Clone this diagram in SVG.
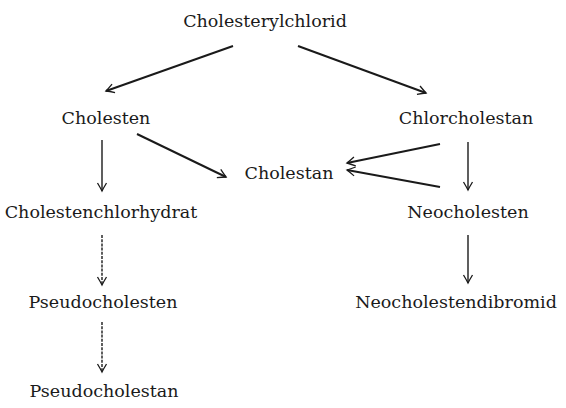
<svg xmlns="http://www.w3.org/2000/svg" width="566" height="408" viewBox="0 0 566 408">
<style>
text{font-family:"DejaVu Serif","Liberation Serif",serif;font-size:17.5px;fill:#1a1a1a;text-anchor:middle}
.c line{stroke:#1a1a1a;stroke-width:1.4;fill:none}
.c .b{stroke-width:2}
.c .d{stroke-dasharray:3 1.2}
</style>
<defs>
<marker id="ah" viewBox="-10 -6 12 12" markerWidth="12" markerHeight="12" refX="0" refY="0" orient="auto" markerUnits="userSpaceOnUse">
<path d="M-8,-4.5 Q-3,-1.5 0,0 Q-3,1.5 -8,4.5" fill="none" stroke="#1a1a1a" stroke-width="1.3"/>
</marker>
</defs>
<rect width="566" height="408" fill="#fff"/>
<g id="n1"><text x="265" y="27">Cholesterylchlorid</text></g>
<g id="n2"><text x="106" y="124">Cholesten</text></g>
<g id="n3"><text x="466" y="124">Chlorcholestan</text></g>
<g id="n4"><text x="289" y="179">Cholestan</text></g>
<g id="n5"><text x="101" y="218">Cholestenchlorhydrat</text></g>
<g id="n6"><text x="468" y="218">Neocholesten</text></g>
<g id="n7"><text x="103" y="308">Pseudocholesten</text></g>
<g id="n8"><text x="456" y="308">Neocholestendibromid</text></g>
<g id="n9"><text x="104" y="397">Pseudocholestan</text></g>
<g id="connectors" class="c">
<line class="b" x1="233" y1="46" x2="106" y2="91" marker-end="url(#ah)"/>
<line class="b" x1="298" y1="46" x2="426" y2="93" marker-end="url(#ah)"/>
<line x1="102" y1="140" x2="102" y2="191" marker-end="url(#ah)"/>
<line class="b" x1="137" y1="134" x2="226" y2="177" marker-end="url(#ah)"/>
<line class="b" x1="440" y1="144" x2="347" y2="163" marker-end="url(#ah)"/>
<line class="b" x1="440" y1="187" x2="347" y2="170" marker-end="url(#ah)"/>
<line x1="468" y1="142" x2="468" y2="190" marker-end="url(#ah)"/>
<line class="d" x1="102" y1="235" x2="102" y2="285" marker-end="url(#ah)"/>
<line x1="468" y1="235" x2="468" y2="283" marker-end="url(#ah)"/>
<line class="d" x1="102" y1="322" x2="102" y2="372" marker-end="url(#ah)"/>
</g>
</svg>
